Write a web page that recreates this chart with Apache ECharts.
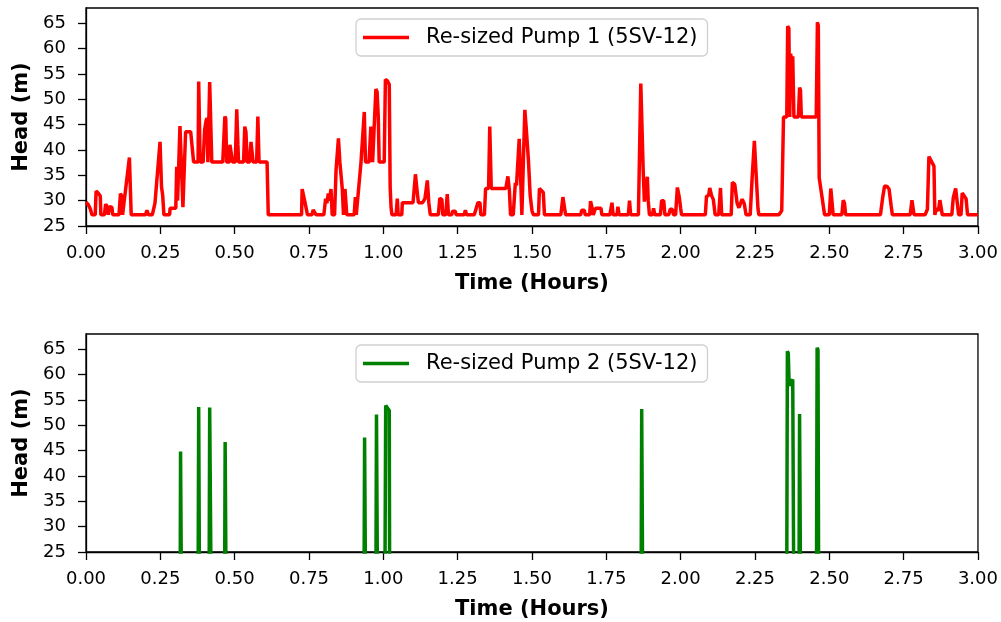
<!DOCTYPE html>
<html>
<head>
<meta charset="utf-8">
<title>Pump head over time</title>
<script src="https://cdn.jsdelivr.net/npm/echarts@6/dist/echarts.min.js"></script>
<style>
  html, body { margin: 0; padding: 0; background: #fff; }
  #chart { width: 1001px; height: 622px; }
</style>
</head>
<body>
<div id="chart"></div>
<script>
// Tick positions for both panels
const timeTicks = [0, 0.25, 0.5, 0.75, 1.0, 1.25, 1.5, 1.75, 2.0, 2.25, 2.5, 2.75, 3.0];
const headTicks = [25, 30, 35, 40, 45, 50, 55, 60, 65];

// Series names
const pump1Name = 'Re-sized Pump 1 (5SV-12)';
const pump2Name = 'Re-sized Pump 2 (5SV-12)';

// Pump 1 head [time (h), head (m)]
const pump1Head = [
  [0.000, 29.7], [0.008, 29.2], [0.015, 28.3], [0.020, 27.2], [0.031, 27.2],
  [0.034, 31.9], [0.042, 31.4], [0.048, 30.9], [0.050, 27.2], [0.062, 27.2],
  [0.066, 29.3], [0.072, 28.8], [0.075, 27.2], [0.079, 28.8], [0.087, 28.7],
  [0.090, 27.2], [0.111, 27.2], [0.116, 31.4], [0.120, 30.9], [0.123, 27.2],
  [0.128, 27.2], [0.146, 38.5], [0.150, 38.2], [0.152, 27.2], [0.200, 27.2],
  [0.205, 28.1], [0.210, 27.2], [0.223, 27.2], [0.232, 29.5], [0.249, 41.6],
  [0.254, 32.7], [0.258, 31.0], [0.262, 27.2], [0.281, 27.2], [0.283, 28.5],
  [0.302, 28.5], [0.305, 36.7], [0.308, 30.0], [0.316, 44.7], [0.320, 44.5],
  [0.326, 28.7], [0.330, 28.7], [0.335, 43.6], [0.352, 43.6], [0.362, 37.6],
  [0.377, 37.6], [0.379, 53.5], [0.382, 53.3], [0.384, 37.6], [0.394, 37.6],
  [0.399, 44.0], [0.404, 45.8], [0.407, 46.3], [0.410, 37.6], [0.414, 37.6],
  [0.416, 53.4], [0.421, 53.2], [0.423, 37.6], [0.460, 37.6], [0.467, 46.6],
  [0.470, 46.2], [0.473, 37.6], [0.482, 37.6], [0.484, 41.0], [0.490, 41.0],
  [0.493, 37.6], [0.502, 37.6], [0.507, 48.0], [0.511, 41.0], [0.513, 37.6],
  [0.530, 37.6], [0.534, 44.6], [0.538, 43.5], [0.542, 37.6], [0.550, 37.6],
  [0.555, 41.6], [0.559, 41.4], [0.562, 37.6], [0.574, 37.6], [0.578, 46.6],
  [0.582, 37.6], [0.609, 37.6], [0.613, 27.2], [0.725, 27.2], [0.727, 32.3],
  [0.736, 29.8], [0.742, 29.8], [0.745, 27.2], [0.760, 27.2], [0.764, 28.2],
  [0.770, 28.5], [0.774, 27.2], [0.800, 27.2], [0.806, 30.4], [0.810, 29.5],
  [0.815, 31.4], [0.819, 30.0], [0.824, 32.3], [0.828, 27.2], [0.836, 27.2],
  [0.841, 36.0], [0.849, 42.3], [0.854, 37.5], [0.862, 32.3], [0.866, 27.2],
  [0.871, 32.3], [0.874, 32.3], [0.877, 27.2], [0.902, 27.2], [0.906, 30.7],
  [0.909, 27.2], [0.915, 27.2], [0.925, 37.6], [0.936, 47.5], [0.940, 37.6],
  [0.952, 37.6], [0.958, 44.6], [0.962, 44.6], [0.964, 37.6], [0.970, 37.6],
  [0.975, 52.0], [0.979, 51.5], [0.983, 46.6], [0.986, 37.6], [1.003, 37.6],
  [1.007, 53.9], [1.014, 53.6], [1.020, 52.9], [1.023, 32.7], [1.026, 28.7],
  [1.029, 27.2], [1.043, 27.2], [1.047, 30.4], [1.050, 27.2], [1.062, 27.2],
  [1.064, 29.6], [1.100, 29.6], [1.108, 35.2], [1.112, 32.8], [1.118, 29.6],
  [1.132, 29.6], [1.140, 30.4], [1.148, 34.0], [1.153, 29.6], [1.158, 27.2],
  [1.185, 27.2], [1.190, 30.5], [1.197, 30.2], [1.200, 27.2], [1.210, 27.2],
  [1.215, 31.3], [1.219, 27.2], [1.230, 27.2], [1.233, 27.9], [1.242, 27.9],
  [1.245, 27.2], [1.272, 27.2], [1.276, 28.1], [1.280, 27.2], [1.306, 27.2],
  [1.312, 28.4], [1.318, 29.6], [1.325, 29.6], [1.328, 27.2], [1.340, 27.2],
  [1.344, 32.4], [1.354, 32.4], [1.358, 44.6], [1.363, 32.4], [1.412, 32.4],
  [1.419, 34.8], [1.424, 32.0], [1.428, 27.2], [1.437, 27.2], [1.444, 33.5],
  [1.448, 33.0], [1.457, 42.2], [1.461, 36.0], [1.466, 27.2], [1.470, 27.2],
  [1.476, 47.9], [1.481, 44.0], [1.488, 38.0], [1.494, 31.0], [1.500, 28.0],
  [1.505, 27.2], [1.522, 27.2], [1.525, 32.4], [1.538, 31.6], [1.542, 27.2],
  [1.597, 27.2], [1.604, 30.7], [1.610, 30.6], [1.613, 27.2], [1.664, 27.2],
  [1.667, 28.1], [1.676, 28.1], [1.679, 27.2], [1.694, 27.2], [1.697, 29.9],
  [1.702, 28.6], [1.706, 27.2], [1.714, 28.5], [1.732, 28.5], [1.735, 27.2],
  [1.762, 27.2], [1.769, 29.6], [1.773, 27.2], [1.786, 27.2], [1.789, 28.8],
  [1.793, 27.2], [1.824, 27.2], [1.828, 30.0], [1.832, 27.2], [1.858, 27.2],
  [1.866, 53.1], [1.870, 52.9], [1.874, 36.0], [1.878, 29.8], [1.888, 34.7],
  [1.891, 30.0], [1.895, 27.2], [1.905, 27.2], [1.909, 28.5], [1.913, 27.2],
  [1.932, 27.2], [1.936, 30.0], [1.943, 30.0], [1.947, 27.2], [1.960, 27.2],
  [1.965, 28.3], [1.972, 28.3], [1.976, 27.2], [1.983, 27.2], [1.989, 32.6],
  [1.995, 30.8], [2.000, 28.5], [2.003, 27.2], [2.083, 27.2], [2.087, 30.9],
  [2.094, 31.0], [2.098, 32.5], [2.104, 31.0], [2.110, 30.2], [2.116, 27.2],
  [2.128, 27.2], [2.134, 32.5], [2.138, 27.2], [2.170, 27.2], [2.174, 33.6],
  [2.182, 33.2], [2.190, 29.5], [2.196, 28.6], [2.207, 30.3], [2.214, 29.4],
  [2.220, 27.2], [2.234, 27.2], [2.240, 34.0], [2.248, 41.8], [2.255, 34.0],
  [2.260, 28.5], [2.263, 27.2], [2.330, 27.2], [2.340, 28.0], [2.346, 46.5],
  [2.357, 46.5], [2.360, 64.4], [2.364, 64.0], [2.367, 46.5], [2.370, 59.0],
  [2.374, 57.0], [2.377, 58.5], [2.381, 46.5], [2.396, 46.5], [2.400, 52.3],
  [2.403, 51.8], [2.406, 46.5], [2.456, 46.5], [2.460, 65.2], [2.463, 64.5],
  [2.466, 34.5], [2.476, 30.5], [2.484, 27.2], [2.500, 27.2], [2.505, 32.4],
  [2.510, 32.2], [2.513, 27.2], [2.542, 27.2], [2.547, 30.1], [2.551, 29.5],
  [2.555, 27.2], [2.672, 27.2], [2.680, 30.8], [2.686, 32.9], [2.694, 32.8],
  [2.701, 32.3], [2.708, 29.0], [2.712, 27.2], [2.772, 27.2], [2.778, 30.1],
  [2.782, 30.0], [2.785, 27.2], [2.822, 27.2], [2.830, 28.3], [2.835, 38.7],
  [2.839, 38.6], [2.852, 36.8], [2.855, 27.2], [2.860, 28.5], [2.867, 28.0],
  [2.872, 30.1], [2.876, 30.0], [2.880, 27.2], [2.912, 27.2], [2.917, 30.6],
  [2.925, 32.4], [2.931, 32.3], [2.935, 27.2], [2.943, 27.2], [2.947, 31.5],
  [2.953, 31.4], [2.960, 30.4], [2.965, 27.2], [3.000, 27.2]
];

// Pump 2 head [time (h), head (m)]; 0 at the start and end of each run,
// null between runs while the pump is off
const pump2Head = [
  [0.316, 0], [0.318, 44.8], [0.321, 44.5], [0.323, 0], [0.35, null],
  [0.376, 0], [0.379, 53.6], [0.381, 53.4], [0.383, 0], [0.40, null],
  [0.413, 0], [0.416, 53.5], [0.421, 53.2], [0.423, 0], [0.44, null],
  [0.465, 0], [0.468, 46.7], [0.471, 46.4], [0.473, 0], [0.70, null],
  [0.934, 0], [0.937, 47.6], [0.940, 47.3], [0.942, 0], [0.96, null],
  [0.974, 0], [0.977, 52.1], [0.980, 51.8], [0.982, 0], [0.99, null],
  [1.004, 0], [1.008, 53.9], [1.014, 53.6], [1.020, 52.9], [1.022, 0], [1.50, null],
  [1.866, 0], [1.869, 53.2], [1.872, 52.9], [1.874, 0], [2.10, null],
  [2.356, 0], [2.359, 64.6], [2.362, 64.2], [2.365, 57.8], [2.371, 58.6],
  [2.377, 59.0], [2.380, 58.7], [2.382, 0], [2.39, null],
  [2.397, 0], [2.400, 52.2], [2.403, 51.9], [2.405, 0], [2.43, null],
  [2.456, 0], [2.459, 65.3], [2.462, 64.9], [2.465, 0]
];

const FONT = 'DejaVu Sans';
const INK = '#000';

function xAxisFor(gridIndex) {
  return {
    type: 'value', gridIndex: gridIndex, min: 0, max: 3,
    name: 'Time (Hours)', nameLocation: 'middle', nameGap: 47,
    nameTextStyle: { fontFamily: FONT, fontSize: 21, fontWeight: 'bold', color: INK },
    axisLine: { show: true, onZero: false, lineStyle: { color: INK, width: 1.3 } },
    axisTick: { show: true, length: 8, customValues: timeTicks, lineStyle: { color: INK, width: 1.3 } },
    axisLabel: {
      customValues: timeTicks, margin: 18,
      fontFamily: FONT, fontSize: 18, color: INK,
      formatter: v => v.toFixed(2)
    },
    splitLine: { show: false }
  };
}

function yAxisFor(gridIndex) {
  return {
    type: 'value', gridIndex: gridIndex, min: 25, max: 68,
    name: 'Head (m)', nameLocation: 'middle', nameGap: 54, nameRotate: 90,
    nameTextStyle: { fontFamily: FONT, fontSize: 21, fontWeight: 'bold', color: INK },
    axisLine: { show: true, onZero: false, lineStyle: { color: INK, width: 1.3 } },
    axisTick: { show: true, length: 8, customValues: headTicks, lineStyle: { color: INK, width: 1.3 } },
    axisLabel: {
      customValues: headTicks, margin: 20,
      fontFamily: FONT, fontSize: 18, color: INK
    },
    splitLine: { show: false }
  };
}

function legendFor(name, top) {
  return {
    data: [name], left: 356, top: top,
    orient: 'horizontal',
    icon: 'rect', itemWidth: 46, itemHeight: 3.5,
    padding: [6, 10, 6, 7],
    backgroundColor: '#fff', borderColor: '#d0d0d0', borderWidth: 1.3, borderRadius: 5,
    textStyle: { fontFamily: FONT, fontSize: 21, color: INK, padding: [0, 0, 0, 12], lineHeight: 25 },
    selectedMode: false
  };
}

const chart = echarts.init(document.getElementById('chart'), null, { renderer: 'canvas' });
chart.setOption({
  animation: false,
  backgroundColor: '#fff',
  grid: [
    { left: 86, top: 8, width: 893, height: 218, show: true, borderColor: INK, borderWidth: 1.3, backgroundColor: 'transparent' },
    { left: 86, top: 334, width: 893, height: 218, show: true, borderColor: INK, borderWidth: 1.3, backgroundColor: 'transparent' }
  ],
  xAxis: [xAxisFor(0), xAxisFor(1)],
  yAxis: [yAxisFor(0), yAxisFor(1)],
  legend: [legendFor(pump1Name, 19), legendFor(pump2Name, 345)],
  series: [
    {
      name: pump1Name, type: 'line', xAxisIndex: 0, yAxisIndex: 0,
      data: pump1Head, showSymbol: false, symbol: 'none', clip: true,
      color: '#ff0000', lineStyle: { color: '#ff0000', width: 3.5 },
      emphasis: { disabled: true }
    },
    {
      name: pump2Name, type: 'line', xAxisIndex: 1, yAxisIndex: 1,
      data: pump2Head, showSymbol: false, symbol: 'none', clip: true,
      connectNulls: false,
      color: '#008000', lineStyle: { color: '#008000', width: 3.5 },
      emphasis: { disabled: true }
    }
  ]
});
</script>
</body>
</html>
